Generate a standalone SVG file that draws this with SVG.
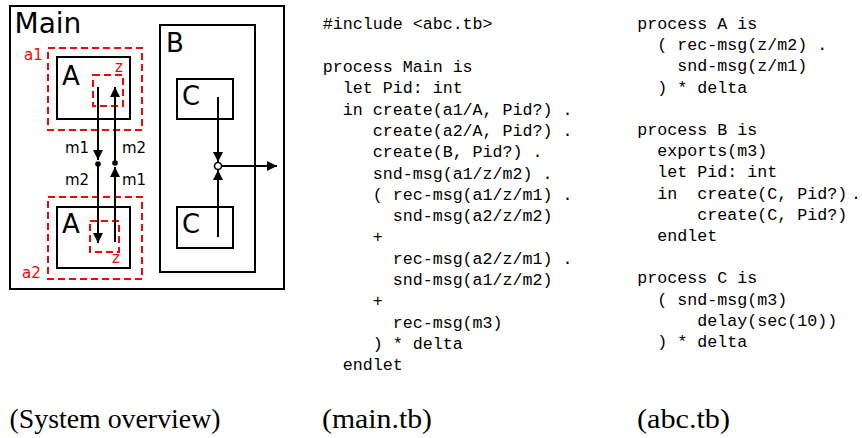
<svg xmlns="http://www.w3.org/2000/svg" width="862" height="438" viewBox="0 0 862 438">
<style>
.box{fill:none;stroke:#000;stroke-width:2}
.dash{fill:none;stroke:#f00;stroke-width:2;stroke-dasharray:7,4}
.big{font-family:"DejaVu Sans",sans-serif;font-size:26px;fill:#000}
.lbl{font-family:"DejaVu Sans",sans-serif;font-size:15px;fill:#000}
.red{font-family:"DejaVu Sans",sans-serif;font-size:15px;fill:#f00}
.ln{fill:none;stroke:#000;stroke-width:2}
.code{font-family:"Liberation Mono",monospace;font-size:16.67px;fill:#000;white-space:pre}
.cap{font-family:"Liberation Serif",serif;font-size:27px;fill:#000}
</style>
<defs>
<marker id="ah" markerUnits="userSpaceOnUse" markerWidth="11" markerHeight="10" refX="10" refY="5" orient="auto">
<path d="M0,0 L10,5 L0,10 Z" fill="#000"/>
</marker>
</defs>
<rect x="0" y="0" width="862" height="438" fill="#fff"/>
<g id="main">
<rect class="box" x="10" y="6" width="274" height="283"/>
<text class="big" x="14.5" y="33" style="font-size:28px">Main</text>
</g>
<g id="B">
<rect class="box" x="160" y="25" width="95" height="247"/>
<text class="big" x="166" y="52">B</text>
</g>
<g id="a1">
<rect class="dash" x="48" y="48" width="94" height="82"/>
<text class="red" x="24" y="60">a1</text>
</g>
<g id="A1">
<rect class="box" x="57" y="57" width="73" height="62"/>
<text class="big" x="62" y="85">A</text>
</g>
<g id="z1">
<rect class="dash" x="93" y="75" width="30" height="31"/>
<text class="red" x="115" y="72">z</text>
</g>
<g id="a2">
<rect class="dash" x="48" y="197" width="94" height="82"/>
<text class="red" x="22" y="278">a2</text>
</g>
<g id="A2">
<rect class="box" x="57" y="207" width="73" height="61"/>
<text class="big" x="62" y="233">A</text>
</g>
<g id="z2">
<rect class="dash" x="90" y="221" width="29" height="31"/>
<text class="red" x="112" y="263">z</text>
</g>
<g id="C1">
<rect class="box" x="177" y="79" width="56" height="40"/>
<text class="big" x="182" y="105">C</text>
</g>
<g id="C2">
<rect class="box" x="177" y="207" width="56" height="41"/>
<text class="big" x="182" y="233">C</text>
</g>
<g id="connectors">
<line class="ln" x1="98" y1="87" x2="98" y2="160" marker-end="url(#ah)"/>
<line class="ln" x1="98" y1="164" x2="98" y2="243" marker-end="url(#ah)"/>
<circle cx="98" cy="164" r="2.8" fill="#000"/>
<line class="ln" x1="115" y1="242" x2="115" y2="167" marker-end="url(#ah)"/>
<line class="ln" x1="115" y1="163" x2="115" y2="87" marker-end="url(#ah)"/>
<circle cx="115" cy="163" r="2.8" fill="#000"/>
<text class="lbl" x="65" y="153">m1</text>
<text class="lbl" x="122" y="153">m2</text>
<text class="lbl" x="65" y="185">m2</text>
<text class="lbl" x="122" y="185">m1</text>
<line class="ln" x1="218" y1="97" x2="218" y2="162" marker-end="url(#ah)"/>
<line class="ln" x1="218" y1="237" x2="218" y2="170" marker-end="url(#ah)"/>
<line class="ln" x1="221.5" y1="166" x2="277" y2="166" marker-end="url(#ah)"/>
<circle cx="218" cy="166" r="3.5" fill="#fff" stroke="#000" stroke-width="1.6"/>
</g>
<g id="maintb">
<text class="code" x="322.7" y="29">#include &lt;abc.tb&gt;</text>
<text class="code" x="322.7" y="72">process Main is</text>
<text class="code" x="322.7" y="93.3">  let Pid: int</text>
<text class="code" x="322.7" y="114.6">  in create(a1/A, Pid?) .</text>
<text class="code" x="322.7" y="135.9">     create(a2/A, Pid?) .</text>
<text class="code" x="322.7" y="157.2">     create(B, Pid?) .</text>
<text class="code" x="322.7" y="178.5">     snd-msg(a1/z/m2) .</text>
<text class="code" x="322.7" y="199.8">     ( rec-msg(a1/z/m1) .</text>
<text class="code" x="322.7" y="221.1">       snd-msg(a2/z/m2)</text>
<text class="code" x="322.7" y="242.4">     +</text>
<text class="code" x="322.7" y="263.7">       rec-msg(a2/z/m1) .</text>
<text class="code" x="322.7" y="285">       snd-msg(a1/z/m2)</text>
<text class="code" x="322.7" y="306.3">     +</text>
<text class="code" x="322.7" y="327.6">       rec-msg(m3)</text>
<text class="code" x="322.7" y="348.9">     ) * delta</text>
<text class="code" x="322.7" y="370.2">  endlet</text>
</g>
<g id="abctb">
<text class="code" x="637.3" y="29">process A is</text>
<text class="code" x="637.3" y="50.2">  ( rec-msg(z/m2) .</text>
<text class="code" x="637.3" y="71.4">    snd-msg(z/m1)</text>
<text class="code" x="637.3" y="92.6">  ) * delta</text>
<text class="code" x="637.3" y="135">process B is</text>
<text class="code" x="637.3" y="156.2">  exports(m3)</text>
<text class="code" x="637.3" y="177.4">  let Pid: int</text>
<text class="code" x="637.3" y="198.6">  in  create(C, Pid?)<tspan x="851">.</tspan></text>
<text class="code" x="637.3" y="219.8">      create(C, Pid?)</text>
<text class="code" x="637.3" y="241">  endlet</text>
<text class="code" x="637.3" y="283.4">process C is</text>
<text class="code" x="637.3" y="304.6">  ( snd-msg(m3)</text>
<text class="code" x="637.3" y="325.8">      delay(sec(10))</text>
<text class="code" x="637.3" y="347">  ) * delta</text>
</g>
<g id="captions">
<text class="cap" x="9.5" y="428" textLength="211" lengthAdjust="spacingAndGlyphs">(System overview)</text>
<text class="cap" x="322" y="428" textLength="110" lengthAdjust="spacingAndGlyphs">(main.tb)</text>
<text class="cap" x="637" y="428" textLength="93" lengthAdjust="spacingAndGlyphs">(abc.tb)</text>
</g>
</svg>
